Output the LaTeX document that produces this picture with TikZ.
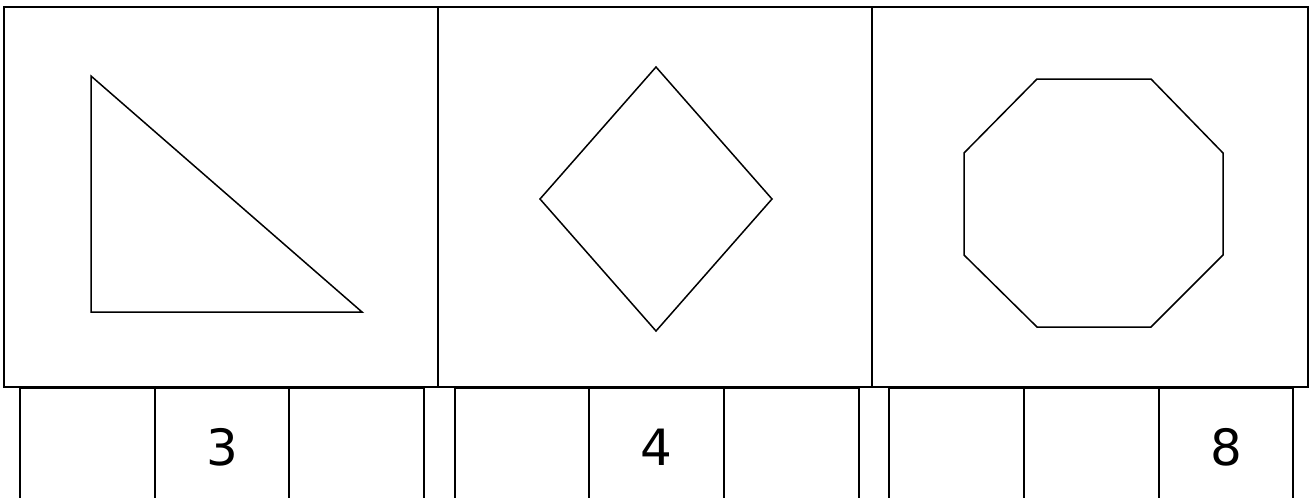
\documentclass[tikz,border=0pt]{standalone}
\usepackage{fontspec}
\setmainfont{DejaVu Sans}
\begin{document}
\begin{tikzpicture}[x=1pt,y=-1pt,
  frame/.style={draw=black,line width=2pt},
  divider/.style={draw=black,line width=1.8pt},
  outline/.style={draw=black,line width=1.5pt,line join=miter},
  cell/.style={draw=black,line width=2pt,minimum height=120pt,anchor=north west,inner sep=0pt}]
\useasboundingbox[fill=white] (0,0) rectangle (1312,498);
\begin{scope}
\clip (0,0) rectangle (1312,498);
% bottom tables
\foreach \name/\xa/\xb/\txt in {a1/19/154/{}, a2/154/288/3, a3/288/423/{},
  b1/454/588/{}, b2/588/723/4, b3/723/858/{},
  c1/888/1023/{}, c2/1023/1158/{}, c3/1158/1292/8}{
  \node[cell,minimum width={(\xb-\xa)*1pt}] (\name) at (\xa,387) {};
  \node (t\name) at ([yshift=-60pt]\name.north) {\fontsize{50}{50}\selectfont\txt};
}
\end{scope}
% top panels
\draw[divider] (438,7) -- (438,387);
\draw[divider] (872,7) -- (872,387);
\draw[frame] (4,7) rectangle (1308,387);
% triangle
\draw[outline] (91,76) -- (91,312) -- (362,312) -- cycle;
% diamond
\draw[outline] (656,67) -- (772,199) -- (656,331) -- (540,199) -- cycle;
% octagon
\draw[outline] (1037,79) -- (1151,79) -- (1223,153) -- (1223,255) -- (1151,327) -- (1037,327) -- (964,255) -- (964,153) -- cycle;
\end{tikzpicture}
\end{document}
